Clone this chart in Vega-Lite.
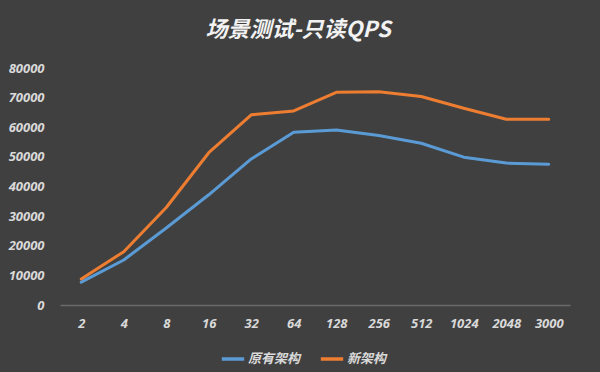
{
  "$schema": "https://vega.github.io/schema/vega-lite/v6.json",
  "autosize": "none",
  "width": 510,
  "height": 237,
  "padding": {"left": 60, "top": 68, "right": 30, "bottom": 67},
  "background": "#404040",
  "title": {
    "text": "场景测试-只读QPS",
    "anchor": "middle",
    "dx": -17,
    "offset": 20,
    "font": "Noto Sans CJK SC",
    "fontSize": 22,
    "fontWeight": "bold",
    "fontStyle": "italic",
    "color": "#f2f2f2"
  },
  "config": {
    "view": {"stroke": null},
    "axis": {"grid": false, "ticks": false, "labelFont": "Noto Sans", "labelFontStyle": "italic", "labelFontWeight": "bold", "labelFontSize": 13, "labelColor": "#d9d9d9", "titleColor": "#d9d9d9"}
  },
  "data": {
    "values": [
      {"x": "2", "s": "原有架构", "v": 7700},
      {"x": "4", "s": "原有架构", "v": 15200},
      {"x": "8", "s": "原有架构", "v": 26000},
      {"x": "16", "s": "原有架构", "v": 37200},
      {"x": "32", "s": "原有架构", "v": 49300},
      {"x": "64", "s": "原有架构", "v": 58300},
      {"x": "128", "s": "原有架构", "v": 59100},
      {"x": "256", "s": "原有架构", "v": 57200},
      {"x": "512", "s": "原有架构", "v": 54600},
      {"x": "1024", "s": "原有架构", "v": 49900},
      {"x": "2048", "s": "原有架构", "v": 47900},
      {"x": "3000", "s": "原有架构", "v": 47500},
      {"x": "2", "s": "新架构", "v": 8800},
      {"x": "4", "s": "新架构", "v": 18000},
      {"x": "8", "s": "新架构", "v": 32900},
      {"x": "16", "s": "新架构", "v": 51400},
      {"x": "32", "s": "新架构", "v": 64200},
      {"x": "64", "s": "新架构", "v": 65500},
      {"x": "128", "s": "新架构", "v": 71800},
      {"x": "256", "s": "新架构", "v": 72000},
      {"x": "512", "s": "新架构", "v": 70400},
      {"x": "1024", "s": "新架构", "v": 66400},
      {"x": "2048", "s": "新架构", "v": 62700},
      {"x": "3000", "s": "新架构", "v": 62700}
    ]
  },
  "mark": {"type": "line", "strokeWidth": 3, "strokeCap": "round", "strokeJoin": "round"},
  "encoding": {
    "x": {
      "field": "x",
      "type": "ordinal",
      "sort": ["2", "4", "8", "16", "32", "64", "128", "256", "512", "1024", "2048", "3000"],
      "scale": {"padding": 0.5},
      "axis": {"title": null, "labelAngle": 0, "labelPadding": 12, "domainColor": "#6a6a6a", "domainWidth": 1.5}
    },
    "y": {
      "field": "v",
      "type": "quantitative",
      "scale": {"domain": [0, 80000]},
      "axis": {"title": null, "values": [0, 10000, 20000, 30000, 40000, 50000, 60000, 70000, 80000], "format": "d", "domain": false, "labelPadding": 16}
    },
    "color": {
      "field": "s",
      "type": "nominal",
      "sort": ["原有架构", "新架构"],
      "scale": {"domain": ["原有架构", "新架构"], "range": ["#5B9BD5", "#ED7D31"]},
      "legend": {
        "title": null,
        "orient": "none",
        "direction": "horizontal",
        "legendX": 160,
        "legendY": 278,
        "symbolType": "stroke",
        "symbolStrokeWidth": 3.5,
        "symbolSize": 500,
        "labelFont": "Noto Sans CJK SC",
        "labelFontStyle": "italic",
        "labelFontWeight": "bold",
        "labelFontSize": 13,
        "labelColor": "#d9d9d9",
        "columnPadding": 12,
        "labelOffset": 2
      }
    }
  }
}
